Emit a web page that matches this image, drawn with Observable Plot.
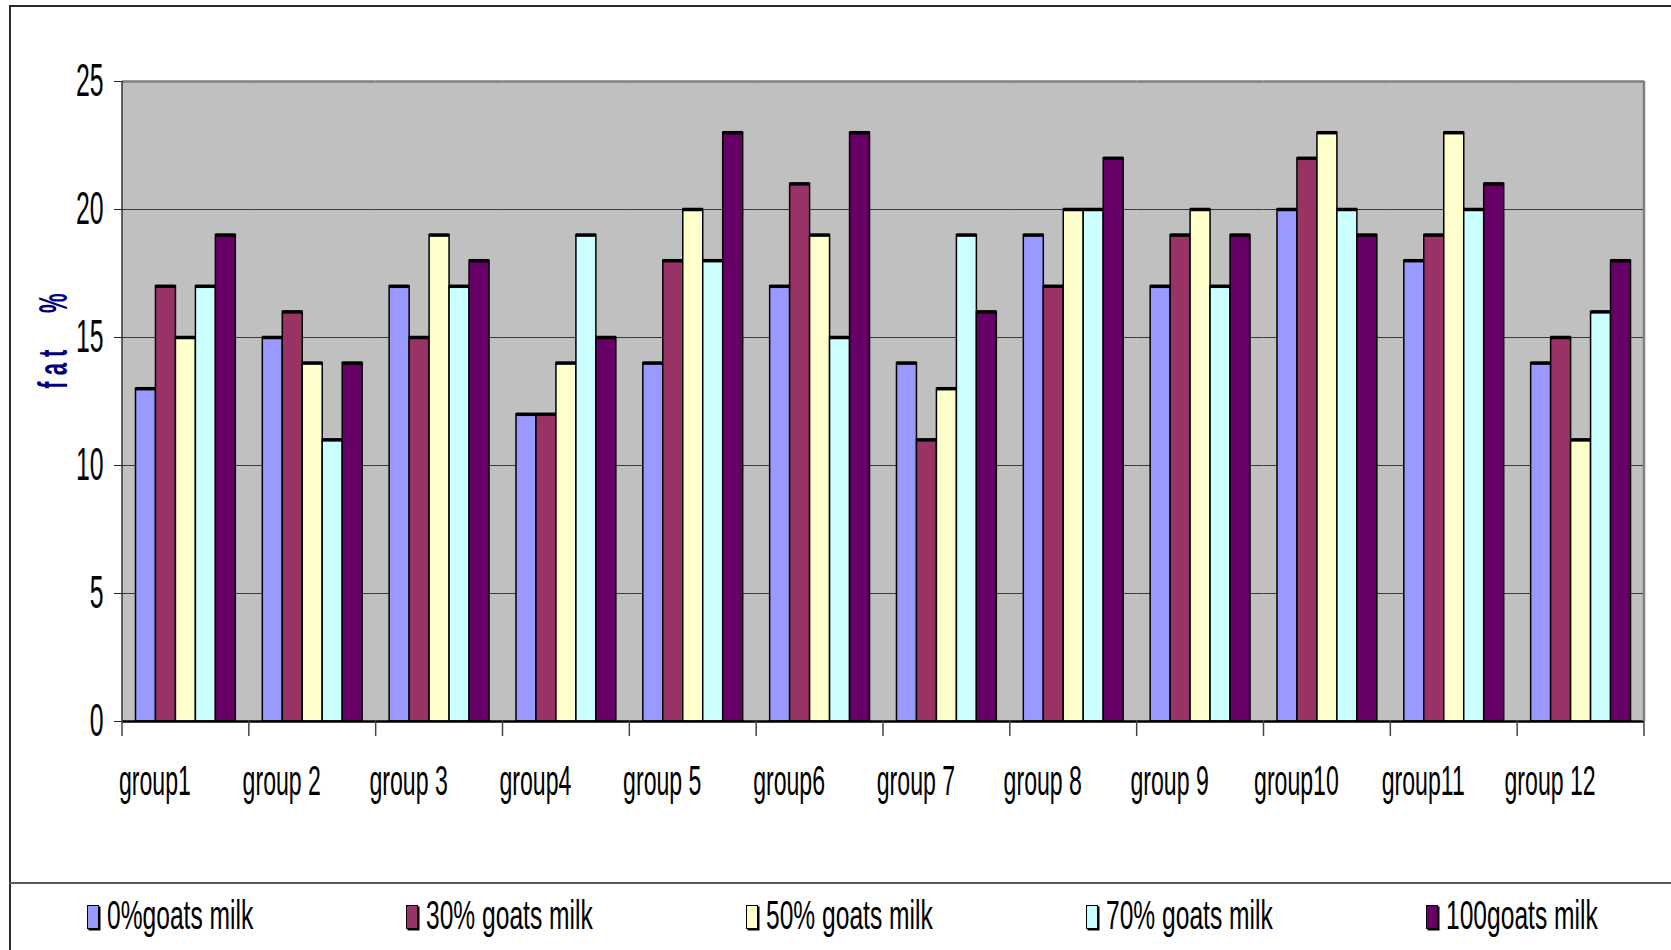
<!DOCTYPE html>
<html>
<head>
<meta charset="utf-8">
<script src="https://cdn.jsdelivr.net/npm/d3@7"></script>
<script src="https://cdn.jsdelivr.net/npm/@observablehq/plot@0.6"></script>
<style>
  html, body { margin: 0; padding: 0; background: #fff; }
  #wrap { position: relative; width: 1671px; height: 950px; overflow: hidden; font-family: "Liberation Sans", Arial, sans-serif; }
  #wrap svg { position: absolute; left: 0; top: 0; }
  #frame { position: absolute; left: 9px; top: 5px; width: 1700px; height: 1000px; border-left: 2px solid #2a2a2a; border-top: 2px solid #2a2a2a; pointer-events: none; }
  #legend { position: absolute; left: 9px; top: 882px; width: 1700px; height: 68px; border-top: 2px solid #5a5a5a; display: flex; align-items: center; padding-left: 78px; box-sizing: border-box; }
  .item { display: flex; align-items: center; margin-right: 153px; }
  .sw { width: 10px; height: 22px; border: 1.5px solid #000; box-shadow: 1.5px 1.5px 0 #000; margin-right: 8px; }
  .lab { display: inline-block; font-size: 41px; line-height: 1; white-space: pre; transform: translateY(-2px) scaleX(0.6); transform-origin: 0 50%; color: #000; }
</style>
</head>
<body>
<div id="wrap"></div>
<script>
// Fat content (%) by group and goat-milk share
const groups = ["group1", "group 2", "group 3", "group4", "group 5", "group6",
                "group 7", "group 8", "group 9", "group10", "group11", "group 12"];
const series = ["0%goats milk", "30% goats milk", "50% goats milk", "70% goats milk", "100goats milk"];
const colors = ["#9999ff", "#993366", "#ffffcc", "#ccffff", "#660066"];

const goat0   = [13, 15, 17, 12, 14, 17, 14, 19, 17, 20, 18, 14];
const goat30  = [17, 16, 15, 12, 18, 21, 11, 17, 19, 22, 19, 15];
const goat50  = [15, 14, 19, 14, 20, 19, 13, 20, 20, 23, 23, 11];
const goat70  = [17, 11, 17, 19, 18, 15, 19, 20, 17, 20, 20, 16];
const goat100 = [19, 14, 18, 15, 23, 23, 16, 22, 19, 19, 21, 18];

const yTicks = [0, 5, 10, 15, 20, 25];
const yLabel = "f a t      %";

const seriesValues = [goat0, goat30, goat50, goat70, goat100];
const rows = groups.flatMap((g, i) =>
  series.map((s, j) => ({group: g, series: s, value: seriesValues[j][i]})));

const chart = Plot.plot({
  width: 1671,
  height: 883,
  marginLeft: 122,
  marginRight: 27,
  marginTop: 81,
  marginBottom: 162,
  style: {fontFamily: "'Liberation Sans', Arial, sans-serif", background: "transparent", color: "#000", overflow: "visible"},
  fx: {domain: groups, padding: 0, round: false},
  x: {domain: series, paddingInner: 0, paddingOuter: 0.675, round: false, axis: null},
  y: {domain: [0, 25], ticks: yTicks},
  color: {domain: series, range: colors},
  marks: [
    Plot.frame({fill: "#c0c0c0", stroke: "#c0c0c0", strokeWidth: 1}),
    Plot.ruleY(yTicks.filter(d => d > 0 && d < 25), {stroke: "#3a3a3a", strokeWidth: 1.2}),
    Plot.ruleY([25], {stroke: "#808080", strokeWidth: 2.5}),
    Plot.barY(rows, {fx: "group", x: "series", y: "value", fill: "series", stroke: "#000", strokeWidth: 1.5}),
    Plot.tickY(rows, {fx: "group", x: "series", y: "value", stroke: "#000", strokeWidth: 3.5}),
    Plot.ruleY([0], {stroke: "#000", strokeWidth: 2.5}),
    Plot.axisY({ticks: yTicks, tickSize: 8, tickPadding: 11, fontSize: 46, label: null, stroke: "#222"}),
    Plot.axisFx({anchor: "bottom", tickSize: 0, tickPadding: 44, dx: -31, fontSize: 42, label: null})
  ]
});

// narrow the lettering of tick labels around their anchors
function squeeze(selector, k) {
  chart.querySelectorAll(selector).forEach(t => {
    let tr = t.getAttribute("transform");
    if (!tr) {
      const x = +t.getAttribute("x") || 0, y = +t.getAttribute("y") || 0;
      t.setAttribute("x", 0);
      t.setAttribute("y", 0);
      tr = `translate(${x},${y})`;
    }
    t.setAttribute("transform", `${tr} scale(${k},1)`);
  });
}
squeeze('g[aria-label="y-axis tick label"] text', 0.54);
squeeze('g[aria-label="fx-axis tick label"] text', 0.55);

// plot-area edges, group separator ticks and the vertical title
const fx = chart.scale("fx");
const y = chart.scale("y");
const y0 = y.apply(0), y25 = y.apply(25);
const left = fx.apply(groups[0]);
const right = fx.apply(groups[groups.length - 1]) + fx.bandwidth;
const svg = d3.select(chart);
const deco = svg.append("g");
deco.append("line").attr("x1", right).attr("x2", right).attr("y1", y25).attr("y2", y0)
  .attr("stroke", "#808080").attr("stroke-width", 2.5);
deco.append("line").attr("x1", left).attr("x2", left).attr("y1", y25).attr("y2", y0)
  .attr("stroke", "#333").attr("stroke-width", 1.5);
const edges = groups.map(g => fx.apply(g)).concat([right]);
deco.selectAll("line.sep").data(edges).join("line").attr("class", "sep")
  .attr("x1", d => d).attr("x2", d => d).attr("y1", y0).attr("y2", y0 + 15)
  .attr("stroke", "#444").attr("stroke-width", 1.5);
deco.append("text")
  .attr("transform", `translate(67,${(y.apply(25) + y.apply(0)) / 2 - 60}) rotate(-90) scale(0.55,1)`)
  .attr("text-anchor", "middle")
  .style("white-space", "pre")
  .attr("font-size", 40)
  .attr("font-weight", "bold")
  .attr("fill", "#000080")
  .text(yLabel);

const wrap = document.getElementById("wrap");
wrap.appendChild(chart);
const frame = document.createElement("div");
frame.id = "frame";
wrap.appendChild(frame);

// legend row
const legend = document.createElement("div");
legend.id = "legend";
series.forEach((s, i) => {
  const item = document.createElement("div");
  item.className = "item";
  const sw = document.createElement("span");
  sw.className = "sw";
  sw.style.background = colors[i];
  const lab = document.createElement("span");
  lab.className = "lab";
  lab.textContent = s;
  item.appendChild(sw);
  item.appendChild(lab);
  legend.appendChild(item);
});
wrap.appendChild(legend);
legend.querySelectorAll(".lab").forEach(lab => {
  const w = lab.offsetWidth;
  lab.style.marginRight = `${-w * 0.4}px`;
});
</script>
</body>
</html>
